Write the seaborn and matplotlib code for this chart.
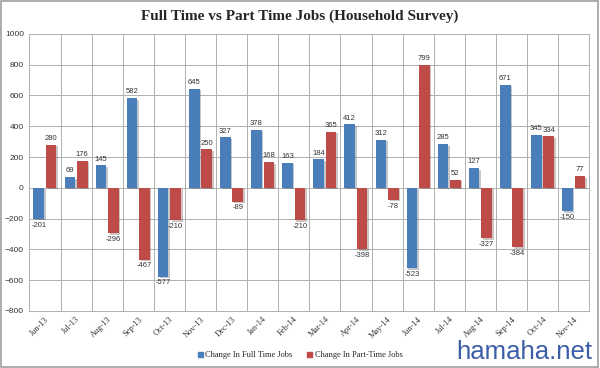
import matplotlib
matplotlib.use('Agg')
import matplotlib.pyplot as plt
import matplotlib.patheffects as pe
import pandas as pd
import seaborn as sns

months = ['Jun-13', 'Jul-13', 'Aug-13', 'Sep-13', 'Oct-13', 'Nov-13', 'Dec-13', 'Jan-14', 'Feb-14',
          'Mar-14', 'Apr-14', 'May-14', 'Jun-14', 'Jul-14', 'Aug-14', 'Sep-14', 'Oct-14', 'Nov-14']
full_time = [-201, 69, 145, 582, -577, 645, 327, 378, 163, 184, 412, 312, -523, 285, 127, 671, 345, -150]
part_time = [280, 176, -296, -467, -210, 250, -89, 168, -210, 365, -398, -78, 799, 52, -327, -384, 334, 77]
series = ['Change In Full Time Jobs', 'Change In Part-Time Jobs']
colors = ['#4a7ebb', '#be4b48']

df = pd.DataFrame({
    'Month': months * 2,
    'Value': full_time + part_time,
    'Series': [series[0]] * len(months) + [series[1]] * len(months),
})

sns.set_style('white')
serif = ['Liberation Serif', 'DejaVu Serif']
sans = ['Liberation Sans', 'DejaVu Sans']

fig = plt.figure(figsize=(6, 3.68), dpi=100)
ax = fig.add_axes([0.049, 0.155, 0.933, 0.753])

sns.barplot(data=df, x='Month', y='Value', hue='Series', palette=colors, saturation=1,
            width=0.8, gap=0.15, linewidth=0, ax=ax, legend=False, zorder=3)

shadow = [pe.SimplePatchShadow(offset=(1.2, -1.2), alpha=0.25), pe.Normal()]
for p in ax.patches:
    p.set_path_effects(shadow)

# value labels
for cont in ax.containers:
    labels = [f'{int(v)}' for v in cont.datavalues]
    ax.bar_label(cont, labels=labels, padding=2, fontsize=5.5, color='#333333',
                 family=sans)

ax.set_xlim(-0.5, len(months) - 0.5)
ax.set_ylim(-800, 1000)
ax.set_yticks(range(-800, 1001, 200))
ax.set_xticks(range(len(months)))
ax.set_xticks([i - 0.5 for i in range(len(months) + 1)], minor=True)
ax.grid(True, which='minor', axis='x', color='#b0b0b0', linewidth=0.7, zorder=0)
ax.grid(True, which='major', axis='y', color='#b0b0b0', linewidth=0.7, zorder=0)
ax.set_axisbelow(True)
ax.tick_params(axis='both', which='both', length=0)
ax.set_xticklabels(months, rotation=45, ha='right', rotation_mode='anchor',
                   fontsize=6, family=serif, color='#333333')
for lbl in ax.get_yticklabels():
    lbl.set_fontsize(6)
    lbl.set_family(sans)
    lbl.set_color('#333333')
ax.tick_params(axis='y', pad=4)
ax.tick_params(axis='x', pad=3)
ax.set_xlabel('')
ax.set_ylabel('')
for s in ax.spines.values():
    s.set_color('#b0b0b0')
    s.set_linewidth(0.7)

fig.text(0.5, 0.955, 'Full Time vs Part Time Jobs (Household Survey)', ha='center', va='center',
         fontsize=11, fontweight='bold', family=serif)

# legend
handles = [plt.Rectangle((0, 0), 1, 1, color=c) for c in colors]
fig.legend(handles, series, loc='center', bbox_to_anchor=(0.5, 0.035), ncol=2, frameon=False,
           prop={'family': serif, 'size': 6}, handlelength=0.6, handleheight=0.6,
           handletextpad=0.3, columnspacing=1.8)

# watermark
fig.text(0.987, 0.012, 'hamaha.net', ha='right', va='bottom', fontsize=18.5,
         color='#3b5ea8', family=sans)

# outer frame
fig.patches.append(plt.Rectangle((0.002, 0.004), 0.994, 0.992, transform=fig.transFigure,
                                 fill=False, edgecolor='#a0a0a0', linewidth=1.2))

fig.savefig('out.png', dpi=100)
